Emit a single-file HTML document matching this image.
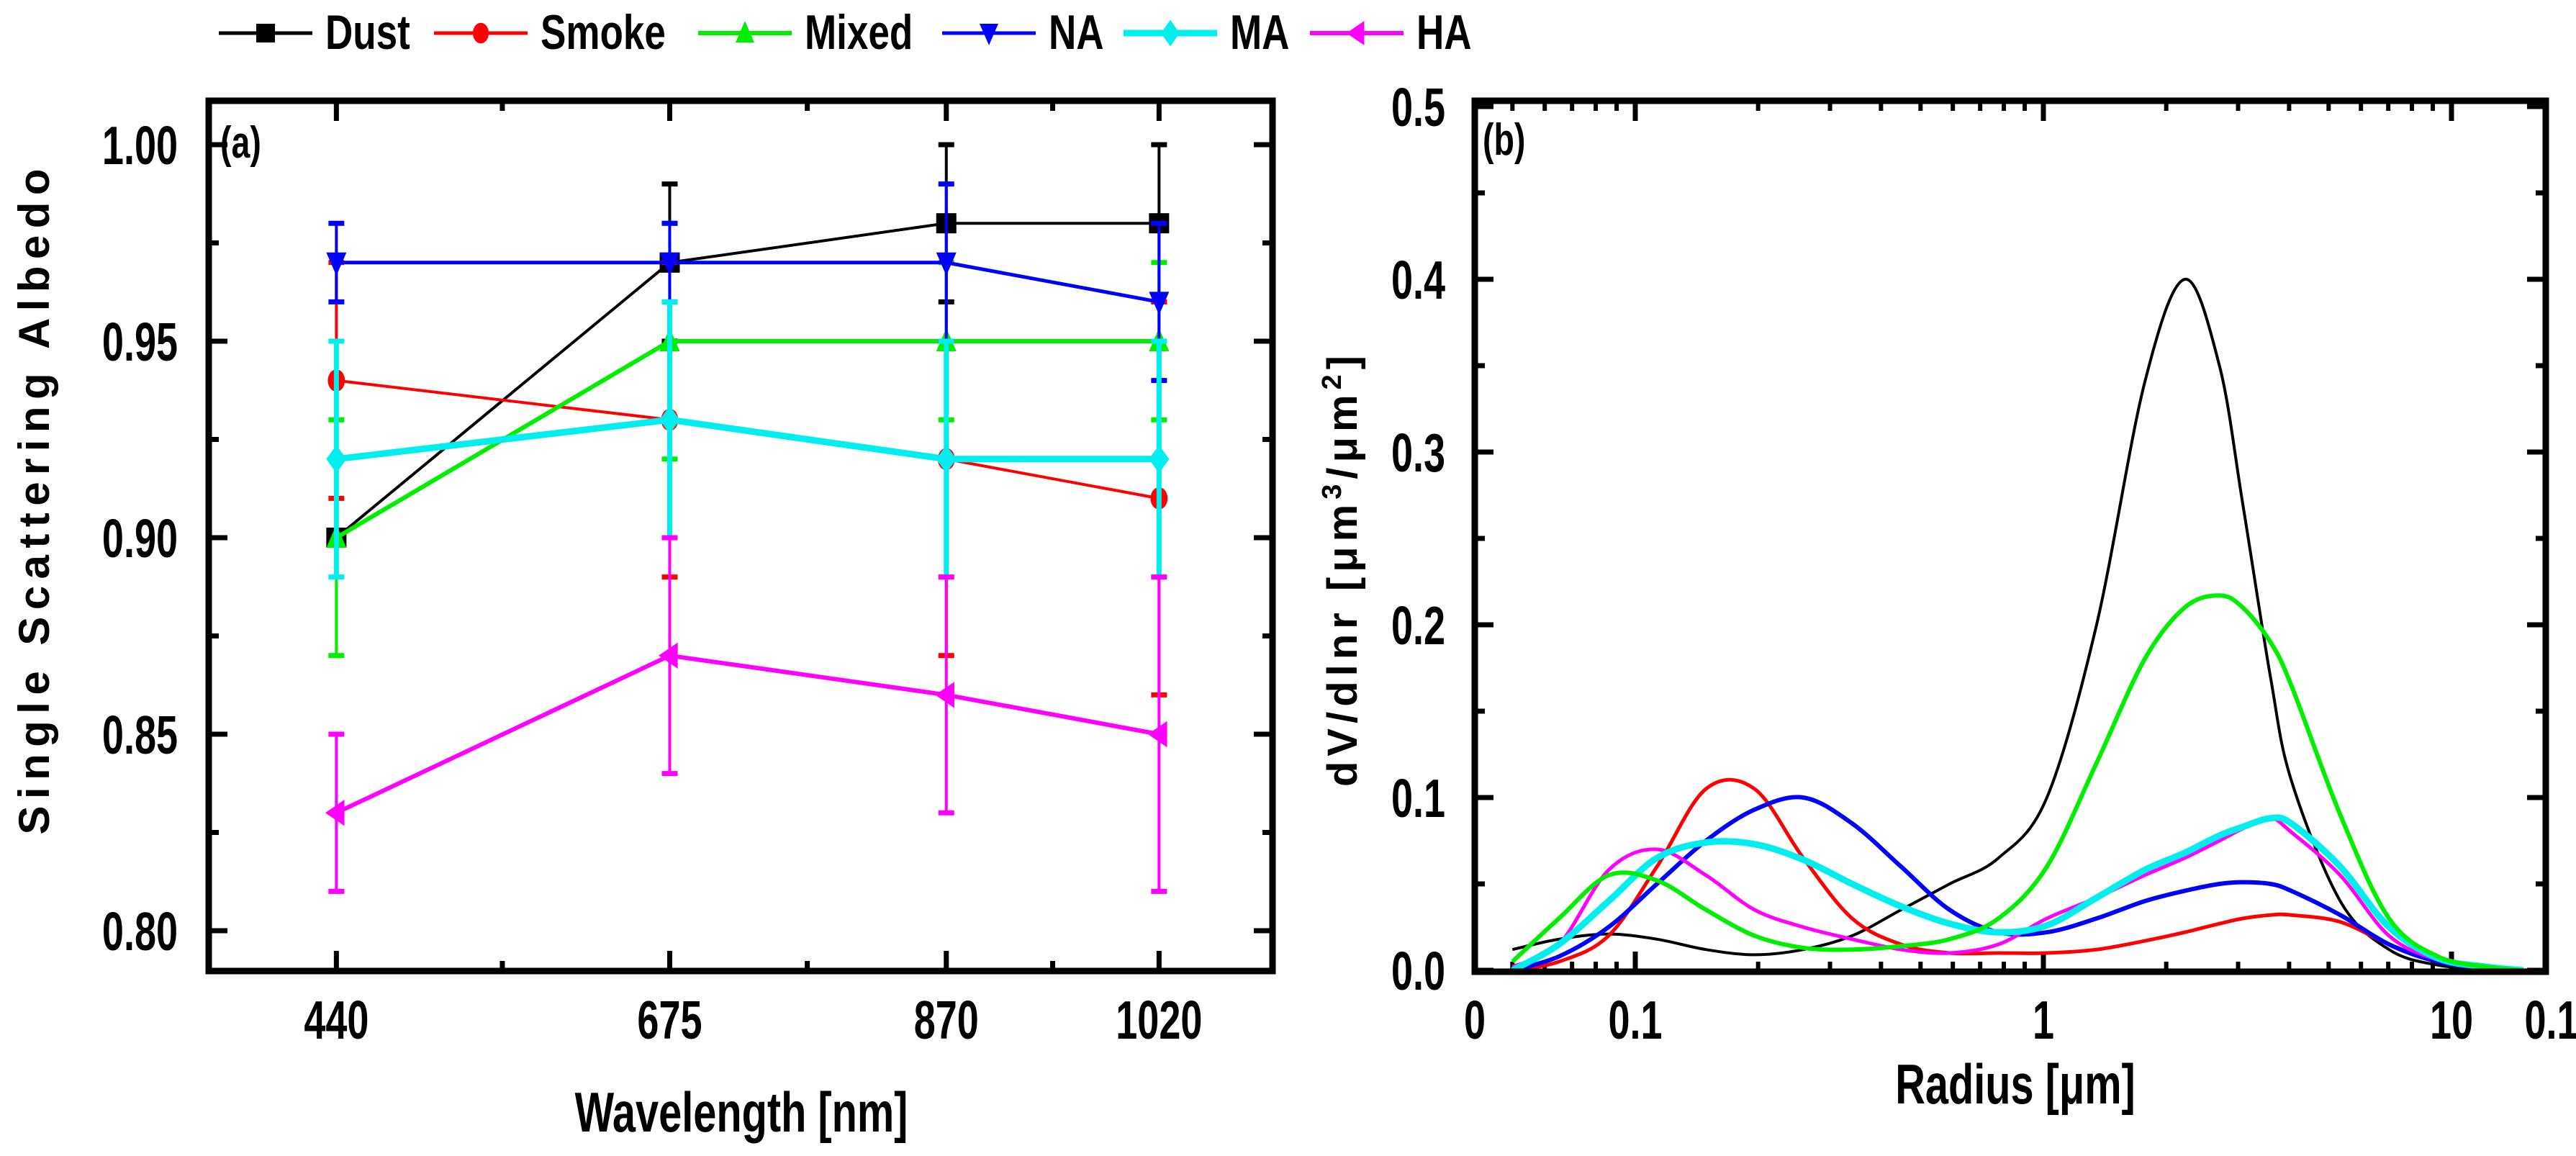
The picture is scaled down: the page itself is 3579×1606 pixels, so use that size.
<!DOCTYPE html>
<html><head><meta charset="utf-8"><style>
html,body{margin:0;padding:0;background:#fff;}
svg{display:block;}
text{font-family:"Liberation Sans",Arial,sans-serif;font-weight:bold;fill:#000;}
</style></head><body>
<svg id="chart" width="3579" height="1606" viewBox="0 0 3579 1606" xmlns="http://www.w3.org/2000/svg">
<g id="legend"></g>
<g id="panelA"></g>
<g id="panelB"></g>
</svg>
<script>
// ---------- data: panel (a) ----------
const wavelengths = [440, 675, 870, 1020];
const seriesNames = ["Dust", "Smoke", "Mixed", "NA", "MA", "HA"];
const dustSSA  = [0.90, 0.97, 0.98, 0.98];
const dustErr  = [0.00, 0.02, 0.02, 0.02];
const smokeSSA = [0.94, 0.93, 0.92, 0.91];
const smokeErr = [0.03, 0.04, 0.05, 0.05];
const mixedSSA = [0.90, 0.95, 0.95, 0.95];
const mixedErr = [0.03, 0.03, 0.02, 0.02];
const naSSA    = [0.97, 0.97, 0.97, 0.96];
const naErr    = [0.01, 0.01, 0.02, 0.02];
const maSSA    = [0.92, 0.93, 0.92, 0.92];
const maErr    = [0.03, 0.03, 0.03, 0.03];
const haSSA    = [0.83, 0.87, 0.86, 0.85];
const haErr    = [0.02, 0.03, 0.03, 0.04];
const ssaTicks = [0.80, 0.85, 0.90, 0.95, 1.00];
const ssaTickLabels = ["0.80", "0.85", "0.90", "0.95", "1.00"];
// ---------- data: panel (b) ----------
const radii = [0.05,0.065,0.086,0.113,0.149,0.196,0.258,0.34,0.448,0.589,0.776,1.02,1.35,1.77,2.22,2.7,3.08,3.6,4.05,5.34,7.03,9.26,12.2,15];
const dustVol  = [0.012,0.018,0.021,0.018,0.012,0.009,0.012,0.02,0.035,0.05,0.065,0.10,0.20,0.34,0.40,0.35,0.27,0.17,0.11,0.04,0.012,0.003,0.001,0];
const smokeVol = [0,0.005,0.02,0.06,0.105,0.105,0.065,0.03,0.015,0.01,0.01,0.01,0.012,0.017,0.022,0.027,0.03,0.032,0.032,0.028,0.015,0.005,0.001,0];
const mixedVol = [0.005,0.03,0.055,0.052,0.035,0.02,0.013,0.012,0.014,0.018,0.03,0.06,0.12,0.18,0.21,0.217,0.21,0.19,0.165,0.09,0.03,0.008,0.002,0];
const naVol    = [0,0.008,0.025,0.05,0.075,0.093,0.1,0.085,0.06,0.035,0.022,0.022,0.03,0.04,0.046,0.05,0.051,0.05,0.046,0.032,0.015,0.005,0.001,0];
const maVol    = [0,0.015,0.04,0.065,0.074,0.073,0.064,0.05,0.037,0.027,0.022,0.026,0.042,0.058,0.068,0.078,0.083,0.088,0.085,0.06,0.025,0.007,0.002,0];
const haVol    = [0.002,0.015,0.058,0.07,0.055,0.035,0.025,0.018,0.012,0.01,0.015,0.03,0.042,0.055,0.065,0.075,0.082,0.088,0.08,0.055,0.02,0.006,0.002,0];
const volTicks = [0, 0.1, 0.2, 0.3, 0.4, 0.5];
const volTickLabels = ["0.0", "0.1", "0.2", "0.3", "0.4", "0.5"];
const radiusTicks = [0.1, 1, 10];
const radiusTickLabels = ["0.1", "1", "10"];

const NS = "http://www.w3.org/2000/svg";
function el(tag, attrs, parent){const e=document.createElementNS(NS,tag);for(const k in attrs)e.setAttribute(k,attrs[k]);parent.appendChild(e);return e;}
function ctext(parent,x,y,str,size,anchor,sx){
  const t=el("text",{x:x/sx,y:y,"font-size":size,"text-anchor":anchor,transform:"scale("+sx+",1)"},parent);
  t.textContent=str;return t;}

const colors=["#000000","#ff0000","#00ee00","#0000ff","#00eeee","#ff00ff"];
const widths=[4,4,6,5,9,6];
const markers=["square","circle","triUp","triDown","diamond","triLeft"];
function marker(parent,type,x,y,c,s){
  let m;
  if(type==="square") m=el("rect",{x:x-s,y:y-s,width:2*s,height:2*s,fill:c},parent);
  else if(type==="circle") m=el("ellipse",{cx:x,cy:y,rx:s*0.85,ry:s*1.1,fill:c},parent);
  else if(type==="triUp") m=el("polygon",{points:`${x},${y-s*1.3} ${x-s},${y+s} ${x+s},${y+s}`,fill:c},parent);
  else if(type==="triDown") m=el("polygon",{points:`${x},${y+s*1.3} ${x-s},${y-s} ${x+s},${y-s}`,fill:c},parent);
  else if(type==="diamond") m=el("polygon",{points:`${x},${y-s*1.4} ${x+s},${y} ${x},${y+s*1.4} ${x-s},${y}`,fill:c},parent);
  else m=el("polygon",{points:`${x-s*1.1},${y} ${x+s*0.8},${y-s*1.3} ${x+s*0.8},${y+s*1.3}`,fill:c},parent);
  return m;}

// ---------- legend ----------
const legend=document.getElementById("legend");
const legX=[304,603,970,1309,1561,1820];
seriesNames.forEach((n,i)=>{
  const g=el("g",{},legend);
  
  
  el("line",{x1:legX[i],y1:46,x2:legX[i]+130,y2:46,stroke:colors[i],"stroke-width":Math.max(5,widths[i])},g);
  marker(g,markers[i],legX[i]+65,46,colors[i],13);
  ctext(g,legX[i]+148,68,n,68,"start",0.78);
});

// ---------- panel (a) ----------
const A=document.getElementById("panelA");
const aL=290,aR=1768,aT=140,aB=1349;
const xa=w=>aL+(w-350)*(aR-aL)/750;
const ya=v=>1293-(v-0.80)*5460;
[0.775,0.80,0.825,0.85,0.875,0.90,0.925,0.95,0.975,1.00].forEach((v,i)=>{
  const y=ya(v); if(y>aB||y<aT) return; const r=Math.round(v*1000)%50; const major=(r===0);
  const len=major?26:14;
  el("line",{x1:aL,y1:y,x2:aL+len,y2:y,stroke:"#000","stroke-width":7},A);
  el("line",{x1:aR,y1:y,x2:aR-len,y2:y,stroke:"#000","stroke-width":7},A);
});
ssaTicks.forEach((v,i)=>{const t=ctext(A,247,ya(v)+27,ssaTickLabels[i],75,"end",0.72);
  });
wavelengths.forEach((w,i)=>{
  const x=xa(w);
  el("line",{x1:x,y1:aB,x2:x,y2:aB-28,stroke:"#000","stroke-width":7},A);
  el("line",{x1:x,y1:aT,x2:x,y2:aT+28,stroke:"#000","stroke-width":7},A);
  const t=ctext(A,x,1443,String(w),75,"middle",0.72);
  
});
[557,772,945].forEach(w=>{const x=xa(w);
  el("line",{x1:x,y1:aB,x2:x,y2:aB-14,stroke:"#000","stroke-width":7},A);
  el("line",{x1:x,y1:aT,x2:x,y2:aT+14,stroke:"#000","stroke-width":7},A);});
const ssaVals=[dustSSA,smokeSSA,mixedSSA,naSSA,maSSA,haSSA];
const ssaErrs=[dustErr,smokeErr,mixedErr,naErr,maErr,haErr];
ssaVals.forEach((vals,si)=>{
  const g=el("g",{},A);
  
  
  vals.forEach((v,i)=>{const x=xa(wavelengths[i]),e=ssaErrs[si][i];
    if(e>0){const ew=si===4?7:4;
      el("line",{x1:x,y1:ya(v-e),x2:x,y2:ya(v+e),stroke:colors[si],"stroke-width":ew},g);
      el("line",{x1:x-11,y1:ya(v-e),x2:x+11,y2:ya(v-e),stroke:colors[si],"stroke-width":7},g);
      el("line",{x1:x-11,y1:ya(v+e),x2:x+11,y2:ya(v+e),stroke:colors[si],"stroke-width":7},g);}
  });
  el("polyline",{points:vals.map((v,i)=>xa(wavelengths[i])+","+ya(v)).join(" "),fill:"none",stroke:colors[si],"stroke-width":widths[si]},g);
  vals.forEach((v,i)=>marker(g,markers[si],xa(wavelengths[i]),ya(v),colors[si],14));
});
el("rect",{x:aL,y:aT,width:aR-aL,height:aB-aT,fill:"none",stroke:"#000","stroke-width":9},A);
ctext(A,306,219,"(a)",62,"start",0.75);
const ytA=el("text",{x:0,y:0,"font-size":60,"text-anchor":"middle",transform:"translate(68,697) rotate(-90)",textLength:925,lengthAdjust:"spacing"},A);
ytA.textContent="Single Scattering Albedo";
const xtA=ctext(A,1030,1572,"Wavelength [nm]",78,"middle",0.74);


// ---------- panel (b) ----------
const B=document.getElementById("panelB");
const bL=2049,bR=3537,bT=140,bB=1350;
const xb=r=>2272+567*Math.log10(r/0.1);
const yb=v=>1348-2400*v;
for(let v=0.05;v<0.5;v+=0.1){const y=yb(v);
  el("line",{x1:bL,y1:y,x2:bL+14,y2:y,stroke:"#000","stroke-width":7},B);
  el("line",{x1:bR,y1:y,x2:bR-14,y2:y,stroke:"#000","stroke-width":7},B);}
volTicks.forEach((v,i)=>{const y=yb(v);
  el("line",{x1:bL,y1:y,x2:bL+26,y2:y,stroke:"#000","stroke-width":7},B);
  el("line",{x1:bR,y1:y,x2:bR-26,y2:y,stroke:"#000","stroke-width":7},B);
  const t=ctext(B,2008,y+27,volTickLabels[i],75,"end",0.72);
  });
[0.01,0.1,1].forEach(d=>{for(let k=2;k<=9;k++){const x=xb(d*k);if(x<bL+10||x>bR-10)continue;
  el("line",{x1:x,y1:bB,x2:x,y2:bB-14,stroke:"#000","stroke-width":6},B);
  el("line",{x1:x,y1:bT,x2:x,y2:bT+14,stroke:"#000","stroke-width":6},B);}});
radiusTicks.forEach((r,i)=>{const x=xb(r);
  el("line",{x1:x,y1:bB,x2:x,y2:bB-28,stroke:"#000","stroke-width":7},B);
  el("line",{x1:x,y1:bT,x2:x,y2:bT+28,stroke:"#000","stroke-width":7},B);
  const t=ctext(B,x,1443,radiusTickLabels[i],75,"middle",0.72);
  });
ctext(B,2049,1443,"0",75,"middle",0.72);
ctext(B,3545,1443,"0.1",75,"middle",0.72);
function smooth(pts){let d="M"+pts[0][0]+","+pts[0][1];
  for(let i=0;i<pts.length-1;i++){const p0=pts[i-1]||pts[i],p1=pts[i],p2=pts[i+1],p3=pts[i+2]||p2;
    const c1=[p1[0]+(p2[0]-p0[0])/6,p1[1]+(p2[1]-p0[1])/6],c2=[p2[0]-(p3[0]-p1[0])/6,p2[1]-(p3[1]-p1[1])/6];
    d+=` C${c1[0].toFixed(1)},${c1[1].toFixed(1)} ${c2[0].toFixed(1)},${c2[1].toFixed(1)} ${p2[0].toFixed(1)},${p2[1].toFixed(1)}`;}
  return d;}
const volVals=[dustVol,smokeVol,mixedVol,naVol,maVol,haVol];
const volW=[4,5,6,6,9,5];
const order=[0,1,3,5,4,2];
order.forEach(si=>{
  const p=el("path",{d:smooth(radii.map((r,i)=>[xb(r),yb(volVals[si][i])])),fill:"none",stroke:colors[si],"stroke-width":volW[si],"stroke-linejoin":"round"},B);
  
  
});
el("rect",{x:bL,y:bT,width:bR-bL,height:bB-bT,fill:"none",stroke:"#000","stroke-width":9},B);
ctext(B,2060,215,"(b)",62,"start",0.75);
const ytB=el("text",{x:0,y:0,"font-size":58,"text-anchor":"middle","letter-spacing":"7",transform:"translate(1885,790) rotate(-90)"},B);
ytB.innerHTML='dV/dlnr [μm<tspan font-size="38" dy="-22">3</tspan><tspan dy="22">/μm</tspan><tspan font-size="38" dy="-22">2</tspan><tspan dy="22">]</tspan>';

const xtB=ctext(B,2800,1533,"Radius [μm]",78,"middle",0.74);

</script>
</body></html>
